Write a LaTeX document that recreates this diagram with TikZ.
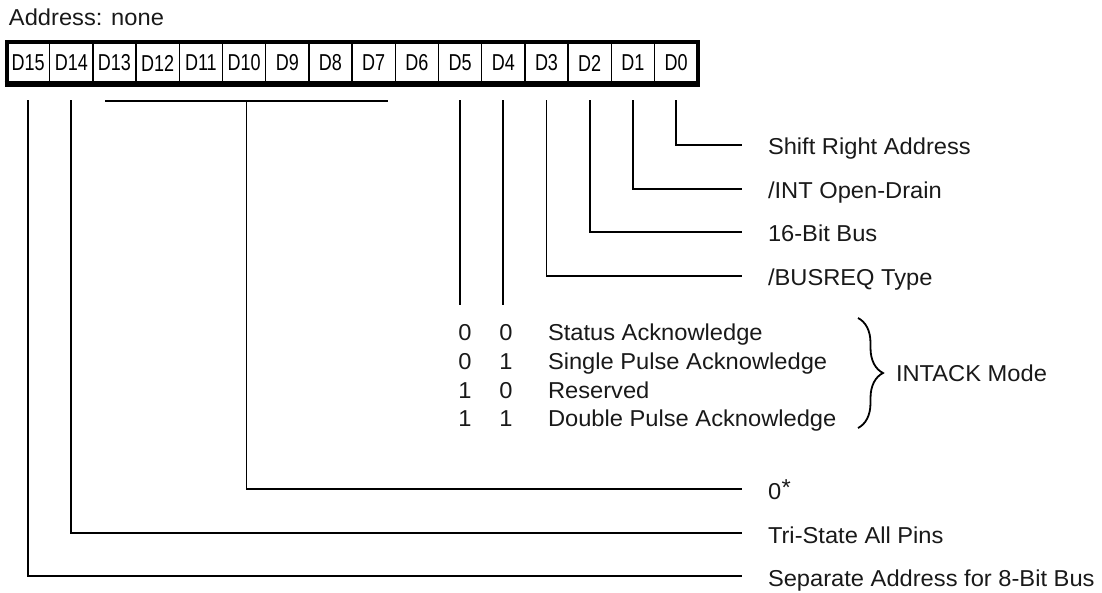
\documentclass[tikz,border=0pt]{standalone}
\usepackage{fontspec}
\setmainfont[FakeStretch=1.03]{Liberation Sans}
\usetikzlibrary{decorations.pathreplacing,calc}
\begin{document}
\begin{tikzpicture}[x=1pt,y=-1pt,
 txt/.style={font=\fontsize{23}{27}\selectfont, inner sep=0pt, outer sep=0pt, text=black!90},
 cell/.style={draw, line width=1.5pt, minimum width=43.2pt, minimum height=43pt, inner sep=0pt, outer sep=0pt, font=\fontsize{23}{27}\selectfont},
 conn/.style={line width=1.8pt},
 lbl/.style={txt, anchor=base west},
 bit/.style={txt, anchor=base}]
\useasboundingbox (0,0) rectangle (1102,592);
\node[lbl] (addr) at (9,25) {Address: none};
\foreach \i in {0,...,15} {
  \pgfmathtruncatemacro\b{15-\i}
  \node[cell] (d\b) at ({6.5+43.2*(\i+0.5)},63) {\raisebox{-2.5pt}{\scalebox{0.76}[1]{D\b}}};
}
\draw[line width=4pt] (d15.north west) rectangle (d0.south east);
\draw[line width=5pt] ([shift={(-2pt,0.8pt)}]d15.south west) -- ([shift={(2pt,0.8pt)}]d0.south east);

% right-hand labels
\coordinate (e0) at (742,145);
\coordinate (e1) at (742,189);
\coordinate (e2) at (742,232);
\coordinate (e3) at (742,276);
\coordinate (e8) at (742,489);
\coordinate (e14) at (742,533);
\coordinate (e15) at (742,576);
\node[lbl] (l0) at (768,154) {Shift Right Address};
\node[lbl] (l1) at (768,198) {/INT Open-Drain};
\node[lbl] (l2) at (768,241) {16-Bit Bus};
\node[lbl] (l3) at (768,285) {/BUSREQ Type};
\node[lbl] (l8) at (768,499.5) {0\kern0.5pt\raisebox{4pt}{*}};
\node[lbl] (l14) at (768,543) {Tri-State All Pins};
\node[lbl] (l15) at (768,586) {Separate Address for 8-Bit Bus};

\draw[conn] ([yshift=-15.5pt]d0.south) |- (e0);
\draw[conn] ([yshift=-15.5pt]d1.south) |- (e1);
\draw[conn] ([yshift=-15.5pt]d2.south) |- (e2);
\draw[conn] ([yshift=-15.5pt]d3.south) |- (e3);
\draw[conn] ([yshift=-15.5pt]d14.south) |- (e14);
\draw[conn] ([yshift=-15.5pt]d15.south) |- (e15);

% D13-D7 group
\coordinate (bl) at (105,101);
\coordinate (br) at (388,101);
\coordinate (bm) at ($(bl)!0.5!(br)$);
\draw[conn] (bl) -- (br);
\draw[conn] (bm) |- (e8);

% D5, D4
\draw[conn] ([yshift=-15.5pt]d5.south) -- ([yshift=-220.5pt]d5.south);
\draw[conn] ([yshift=-15.5pt]d4.south) -- ([yshift=-220.5pt]d4.south);

% table
\node[bit] (a1) at (465,340.2) {0};
\node[bit] (b1) at (506,340.2) {0};
\node[lbl] (t1) at (548,340.2) {Status Acknowledge};
\node[bit] (a2) at (465,369.2) {0};
\node[bit] (b2) at (506,369.2) {1};
\node[lbl] (t2) at (548,369.2) {Single Pulse Acknowledge};
\node[bit] (a3) at (465,398.2) {1};
\node[bit] (b3) at (506,398.2) {0};
\node[lbl] (t3) at (548,398.2) {Reserved};
\node[bit] (a4) at (465,426.2) {1};
\node[bit] (b4) at (506,426.2) {1};
\node[lbl] (t4) at (548,426.2) {Double Pulse Acknowledge};

\coordinate (bt) at (858,318);
\coordinate (bb) at (858,428);
\draw[line width=1.8pt, decorate, decoration={brace, amplitude=25pt}] (bt) -- (bb);
\node[lbl] (im) at (896,381.5) {INTACK Mode};
\end{tikzpicture}
\end{document}
